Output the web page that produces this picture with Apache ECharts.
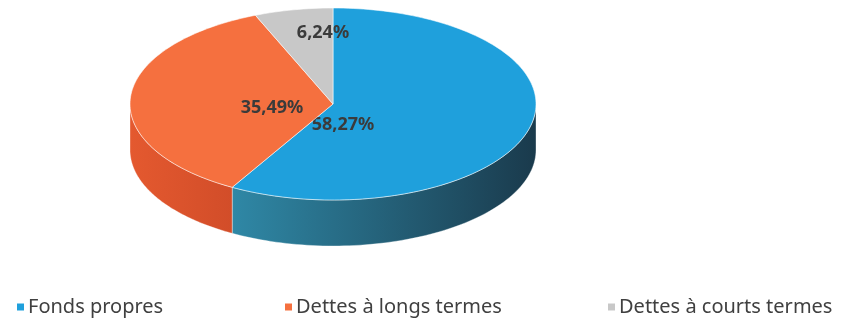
<!DOCTYPE html>
<html>
<head>
<meta charset="utf-8">
<script src="https://cdn.jsdelivr.net/npm/echarts@6/dist/echarts.min.js"></script>
<style>
  html, body { margin: 0; padding: 0; background: #fff; }
  #main { width: 849px; height: 319px; }
</style>
</head>
<body>
<div id="main"></div>
<script>
// parts of the financing structure (%)
const names = ['Fonds propres', 'Dettes à longs termes', 'Dettes à courts termes'];
const values = [58.27, 35.49, 6.24];

const topColors = ['#1fa0dc', '#f5703f', '#c8c8c8'];
const sideColors = [['#2f88a6', '#1a3a4c'], ['#e4592f', '#d24d29'], ['#a8a8a8', '#909090']];
// where each percentage sits, relative to the pie centre
const labelShift = [[10, 21], [-61, 4], [-10, -71]];

const cx = 333, cy = 104, rx = 203, ry = 96, depth = 46;

function pt(a, dy) {
    return [cx + rx * Math.sin(a), cy - ry * Math.cos(a) + (dy || 0)];
}

function sliceRange(i) {
    let total = values.reduce((s, v) => s + v, 0);
    let start = 0;
    for (let k = 0; k < i; k++) start += values[k];
    return [start / total * Math.PI * 2, (start + values[i]) / total * Math.PI * 2];
}

function renderItem(params, api) {
    let i = params.seriesIndex;
    let [a0, a1] = sliceRange(i);
    let children = [];

    // front wall, only the part facing us
    let s0 = Math.max(a0, Math.PI / 2), s1 = Math.min(a1, Math.PI * 1.5);
    if (s1 > s0) {
        let upper = [], lower = [];
        let n = 80;
        for (let k = 0; k <= n; k++) {
            let a = s0 + (s1 - s0) * k / n;
            upper.push(pt(a));
            lower.unshift(pt(a, depth));
        }
        children.push({
            type: 'polygon',
            shape: {points: upper.concat(lower)},
            style: {
                fill: new echarts.graphic.LinearGradient(1, 0, 0, 0, [
                    {offset: 0, color: sideColors[i][1]},
                    {offset: 1, color: sideColors[i][0]}
                ]),
                stroke: 'rgba(255,255,255,0.35)',
                lineWidth: 1
            }
        });
    }

    // top face
    let top = [[cx, cy]];
    let n = Math.max(8, Math.round((a1 - a0) * 40));
    for (let k = 0; k <= n; k++) {
        top.push(pt(a0 + (a1 - a0) * k / n));
    }
    children.push({
        type: 'polygon',
        shape: {points: top},
        style: {fill: topColors[i], stroke: 'rgba(255,255,255,0.55)', lineWidth: 1}
    });

    children.push({
        type: 'text',
        x: cx + labelShift[i][0],
        y: cy + labelShift[i][1],
        style: {
            text: api.value(0).toFixed(2).replace('.', ',') + '%',
            fill: '#3b3b3b',
            font: 'bold 18px "Noto Sans"',
            align: 'center',
            verticalAlign: 'middle'
        }
    });
    return {type: 'group', children: children};
}

const chart = echarts.init(document.getElementById('main'));

const legendLeft = [12, 280, 603];
chart.setOption({
    backgroundColor: '#fff',
    animation: false,
    legend: names.map((nm, i) => ({
        data: [nm],
        left: legendLeft[i],
        top: 292,
        icon: 'rect',
        itemWidth: 7,
        itemHeight: 7,
        itemGap: 6,
        textStyle: {fontSize: 20, color: '#404040', fontFamily: 'Noto Sans', padding: [0, 0, 0, -1]}
    })),
    series: names.map((nm, i) => ({
        type: 'custom',
        name: nm,
        coordinateSystem: 'none',
        itemStyle: {color: topColors[i]},
        renderItem: renderItem,
        data: [values[i]]
    }))
});
</script>
</body>
</html>
